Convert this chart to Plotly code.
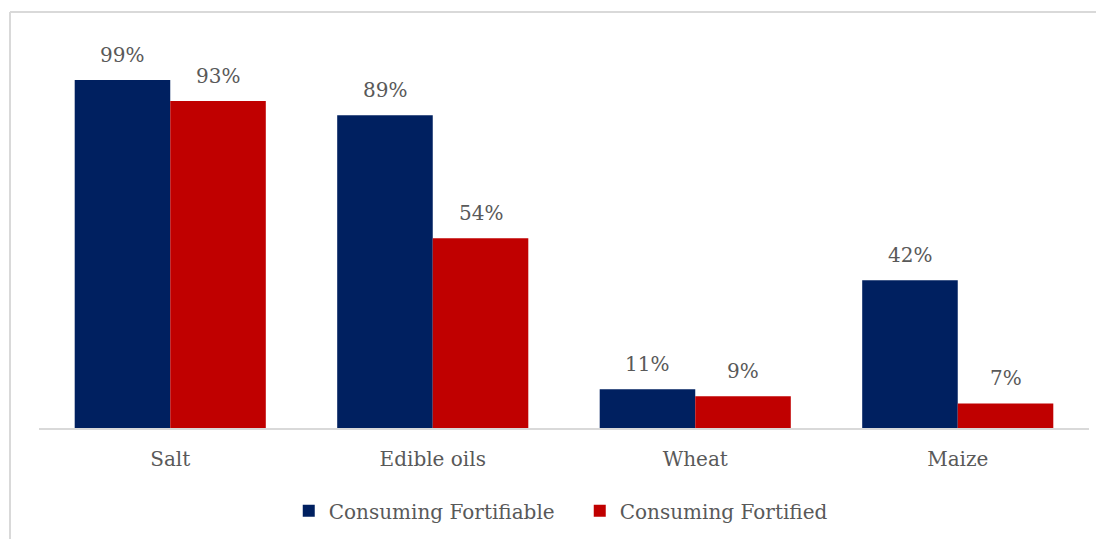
import plotly.graph_objects as go

categories = ["Salt", "Edible oils", "Wheat", "Maize"]
fortifiable = [99, 89, 11, 42]
fortified = [93, 54, 9, 7]
series_names = ["Consuming Fortifiable", "Consuming Fortified"]
colors = ["#002060", "#C00000"]

# page body has an 8px margin; figure coordinates below are relative to the figure
W, H = 1104, 539
ml, mr, mt, mb = 31, 23, 14, 119
plot_w = W - ml - mr
plot_h = H - mt - mb
ymax = plot_h / 3.515
bargap = 0.272

font = "DejaVu Serif"
txtcol = "#595959"

fig = go.Figure()
for name, vals, c in zip(series_names, [fortifiable, fortified], colors):
    fig.add_trace(go.Bar(
        x=categories, y=vals, name=name,
        marker=dict(color=c, line=dict(width=0)),
    ))

# data labels above the bars
bar_px = plot_w / len(categories) * (1 - bargap) / 2
annotations = []
for k, vals in enumerate([fortifiable, fortified]):
    shift = (-0.5 if k == 0 else 0.5) * bar_px
    for cat, v in zip(categories, vals):
        annotations.append(dict(
            x=cat, y=v, xref="x", yref="y", text=f"{v}%", showarrow=False,
            xanchor="center", yanchor="bottom", xshift=shift, yshift=11,
            font=dict(family=font, size=20, color=txtcol),
        ))

x0 = (2 - ml) / plot_w
y0 = 1 + (mt - 4) / plot_h
fig.update_layout(
    width=W, height=H,
    margin=dict(l=ml, r=mr, t=mt, b=mb),
    paper_bgcolor="white", plot_bgcolor="white",
    barmode="group", bargap=bargap, bargroupgap=0,
    font=dict(family=font, size=20, color=txtcol),
    showlegend=True,
    legend=dict(orientation="h", x=0.515, xanchor="center", y=-0.204, yanchor="middle",
                font=dict(family=font, size=20, color=txtcol), itemwidth=30,
                entrywidth=246, traceorder="normal"),
    xaxis=dict(showline=True, linecolor="#d9d9d9", linewidth=1.5, ticks="",
               ticklabelstandoff=12,
               tickfont=dict(family=font, size=20, color=txtcol), showgrid=False),
    yaxis=dict(range=[0, ymax], visible=False, showgrid=False, zeroline=False),
    annotations=annotations,
    shapes=[
        dict(type="line", xref="paper", yref="paper", x0=x0, x1=1.2, y0=y0, y1=y0,
             line=dict(color="#d9d9d9", width=2)),
        dict(type="line", xref="paper", yref="paper", x0=x0, x1=x0, y0=y0, y1=-0.5,
             line=dict(color="#d9d9d9", width=2)),
    ],
)
fig.write_html("out.html")
